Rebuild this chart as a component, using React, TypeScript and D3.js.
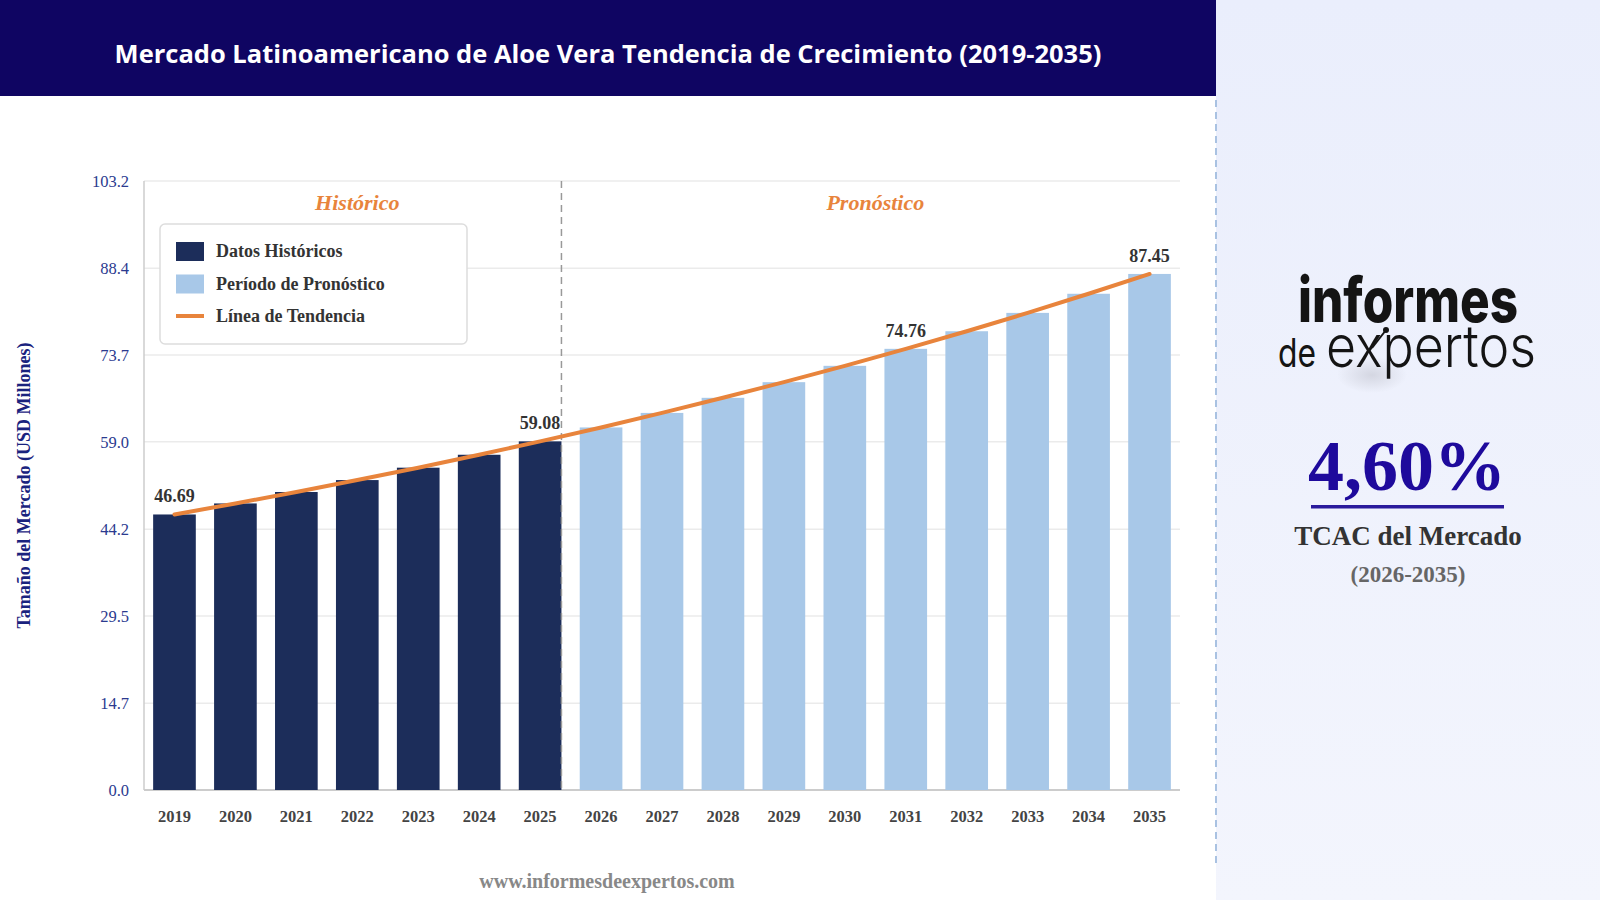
import React from "react";
import * as d3 from "d3";

const years = [
  "2019", "2020", "2021", "2022", "2023", "2024", "2025", "2026", "2027",
  "2028", "2029", "2030", "2031", "2032", "2033", "2034", "2035",
];
const values = [
  46.69, 48.56, 50.5, 52.52, 54.62, 56.81, 59.08, 61.44, 63.9, 66.46, 69.11,
  71.88, 74.76, 77.74, 80.85, 84.09, 87.45,
];
const lastHistoricalYear = "2025";
const labeledYears = ["2019", "2025", "2031", "2035"];
const yTicks = [0, 14.7, 29.5, 44.2, 59.0, 73.7, 88.4, 103.2];
const legendLabels = ["Datos Históricos", "Período de Pronóstico", "Línea de Tendencia"];

const width = 1600;
const height = 900;
const margin = { top: 181, right: 420, bottom: 110, left: 144 };
const serif = "'Liberation Serif', 'Times New Roman', serif";

const histColor = "#1c2d5a";
const foreColor = "#a8c8e8";
const trendColor = "#e8843c";

const App: React.FC = () => {
  const x = d3.scaleBand<string>()
    .domain(years)
    .range([margin.left, width - margin.right])
    .paddingInner(0.3)
    .paddingOuter(0.15);

  const y = d3.scaleLinear()
    .domain([0, yTicks[yTicks.length - 1]])
    .range([height - margin.bottom, margin.top]);

  const lastHistIndex = years.indexOf(lastHistoricalYear);
  const divider = x(lastHistoricalYear)! + x.bandwidth();
  // boundary between the last historical band and the first forecast band
  const sectionSplit = x(lastHistoricalYear)! + x.bandwidth() + (x.step() - x.bandwidth()) / 2;
  const plotRight = width - margin.right;

  const trend = d3.line<number>()
    .x((_, i) => x(years[i])! + x.bandwidth() / 2)
    .y((d) => y(d))
    .curve(d3.curveMonotoneX);

  const isHist = (yr: string) => years.indexOf(yr) <= lastHistIndex;

  return (
    <svg
      width={width}
      height={height}
      viewBox={`0 0 ${width} ${height}`}
      style={{ position: "absolute", left: 0, top: 0, display: "block" }}
    >
      <defs>
        <linearGradient id="panelBg" x1="0" y1="0" x2="0" y2="1">
          <stop offset="0%" stopColor="#eaeefc" />
          <stop offset="100%" stopColor="#f3f5fd" />
        </linearGradient>
        <radialGradient id="logoGlow">
          <stop offset="0%" stopColor="#c9cbd6" stopOpacity={0.7} />
          <stop offset="100%" stopColor="#c9cbd6" stopOpacity={0} />
        </radialGradient>
      </defs>

      <rect x={0} y={0} width={width} height={height} fill="#ffffff" />
      <rect x={1216} y={0} width={width - 1216} height={height} fill="url(#panelBg)" />

      {/* header */}
      <rect x={0} y={0} width={1216} height={96} fill="#0f0562" />
      <text
        x={608}
        y={63}
        textAnchor="middle"
        fill="#ffffff"
        fontFamily="'Open Sans', 'Noto Sans', sans-serif"
        fontWeight={700}
        fontSize={25.5}
      >
        Mercado Latinoamericano de Aloe Vera Tendencia de Crecimiento (2019-2035)
      </text>

      {/* grid */}
      {yTicks.map((t) => (
        <line
          key={t}
          x1={margin.left}
          x2={plotRight}
          y1={y(t)}
          y2={y(t)}
          stroke="#ebebeb"
          strokeWidth={1.5}
        />
      ))}
      {yTicks.map((t) => (
        <text
          key={"l" + t}
          x={129}
          y={y(t)}
          dy="0.35em"
          textAnchor="end"
          fill="#2b3a8f"
          fontFamily={serif}
          fontSize={16.5}
        >
          {t.toFixed(1)}
        </text>
      ))}

      {/* axes */}
      <line x1={margin.left} x2={margin.left} y1={margin.top} y2={y(0)} stroke="#cccccc" strokeWidth={1.5} />
      <line x1={margin.left} x2={plotRight} y1={y(0)} y2={y(0)} stroke="#cccccc" strokeWidth={2} />

      {/* bars */}
      {years.map((yr, i) => (
        <rect
          key={yr}
          x={x(yr)}
          y={y(values[i])}
          width={x.bandwidth()}
          height={y(0) - y(values[i])}
          fill={isHist(yr) ? histColor : foreColor}
        />
      ))}

      {/* divider */}
      <line
        x1={divider}
        x2={divider}
        y1={margin.top}
        y2={y(0)}
        stroke="#999999"
        strokeWidth={1.5}
        strokeDasharray="7,5"
      />

      {/* trend */}
      <path d={trend(values)!} fill="none" stroke={trendColor} strokeWidth={4} strokeLinecap="round" />

      {/* value labels */}
      {labeledYears.map((yr) => {
        const v = values[years.indexOf(yr)];
        return (
          <text
            key={"v" + yr}
            x={x(yr)! + x.bandwidth() / 2}
            y={y(v) - 12}
            textAnchor="middle"
            fill="#333333"
            fontFamily={serif}
            fontWeight={700}
            fontSize={18}
          >
            {v.toFixed(2)}
          </text>
        );
      })}

      {/* x labels */}
      {years.map((yr) => (
        <text
          key={"x" + yr}
          x={x(yr)! + x.bandwidth() / 2}
          y={822}
          textAnchor="middle"
          fill="#444444"
          fontFamily={serif}
          fontWeight={700}
          fontSize={16.5}
        >
          {yr}
        </text>
      ))}

      {/* section labels */}
      <text
        x={(margin.left + sectionSplit) / 2}
        y={210}
        textAnchor="middle"
        fill={trendColor}
        fontFamily={serif}
        fontStyle="italic"
        fontWeight={700}
        fontSize={22}
      >
        Histórico
      </text>
      <text
        x={(sectionSplit + plotRight) / 2}
        y={210}
        textAnchor="middle"
        fill={trendColor}
        fontFamily={serif}
        fontStyle="italic"
        fontWeight={700}
        fontSize={22}
      >
        Pronóstico
      </text>

      {/* legend */}
      <rect x={160} y={224} width={307} height={120} rx={5} fill="#ffffff" stroke="#dddddd" strokeWidth={1.5} />
      {legendLabels.map((lab, i) => {
        const cy = 251 + i * 32.5;
        return (
          <g key={lab}>
            {i < 2 ? (
              <rect x={176} y={cy - 9} width={28} height={19} fill={i === 0 ? histColor : foreColor} />
            ) : (
              <line x1={176} x2={204} y1={cy} y2={cy} stroke={trendColor} strokeWidth={4} />
            )}
            <text
              x={216}
              y={cy}
              dy="0.35em"
              fill="#333333"
              fontFamily={serif}
              fontWeight={700}
              fontSize={18}
            >
              {lab}
            </text>
          </g>
        );
      })}

      {/* y title */}
      <text
        transform={`translate(30,${(margin.top + y(0)) / 2}) rotate(-90)`}
        textAnchor="middle"
        fill="#1a237e"
        fontFamily={serif}
        fontWeight={700}
        fontSize={18}
      >
        Tamaño del Mercado (USD Millones)
      </text>

      {/* footer */}
      <text
        x={607}
        y={888}
        textAnchor="middle"
        fill="#888888"
        fontFamily={serif}
        fontWeight={700}
        fontSize={20}
      >
        www.informesdeexpertos.com
      </text>

      {/* right panel */}
      <line x1={1216} x2={1216} y1={100} y2={866} stroke="#a9c2e2" strokeWidth={2} strokeDasharray="7,5" />

      <ellipse cx={1372} cy={375} rx={35} ry={18} fill="url(#logoGlow)" />
      <text
        x={1298}
        y={322}
        fill="#141414"
        fontFamily="Inter, 'Open Sans', sans-serif"
        fontWeight={800}
        fontSize={62}
        textLength={220}
        lengthAdjust="spacingAndGlyphs"
      >
        informes
      </text>
      <text
        x={1278}
        y={367}
        fill="#141414"
        fontFamily="Inter, 'Open Sans', sans-serif"
        fontWeight={400}
        fontSize={40}
        textLength={38}
        lengthAdjust="spacingAndGlyphs"
      >
        de
      </text>
      <text
        x={1326}
        y={367}
        fill="#141414"
        fontFamily="Inter, 'Open Sans', sans-serif"
        fontWeight={300}
        fontSize={58}
        textLength={210}
        lengthAdjust="spacingAndGlyphs"
      >
        expertos
      </text>
      <circle cx={1386} cy={330} r={3} fill="#141414" />
      <line x1={1386} y1={330} x2={1372} y2={348} stroke="#141414" strokeWidth={2} />

      <text
        x={1407}
        y={490}
        textAnchor="middle"
        fill="#1e0a9c"
        fontFamily={serif}
        fontWeight={700}
        fontSize={72}
      >
        4,60%
      </text>
      <rect x={1311} y={505} width={193} height={3.5} fill="#2a1a9c" />
      <text
        x={1408}
        y={545}
        textAnchor="middle"
        fill="#333333"
        fontFamily={serif}
        fontWeight={700}
        fontSize={27}
      >
        TCAC del Mercado
      </text>
      <text
        x={1408}
        y={582}
        textAnchor="middle"
        fill="#666666"
        fontFamily={serif}
        fontWeight={700}
        fontSize={23}
      >
        (2026-2035)
      </text>
    </svg>
  );
};

export default App;
